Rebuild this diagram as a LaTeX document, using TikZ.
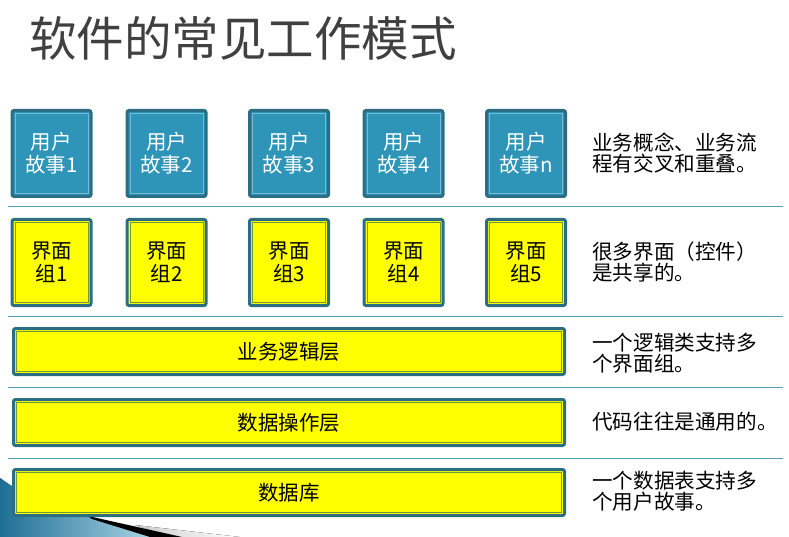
\documentclass[tikz,border=0pt]{standalone}
\usepackage{fontspec}
\setmainfont{Noto Sans CJK SC}

\definecolor{boxedge}{HTML}{2B6E84}
\definecolor{storyblue}{HTML}{2E95B8}
\definecolor{storyline}{HTML}{6FBDD4}
\definecolor{groupline}{HTML}{6E9B3A}
\definecolor{groupfill}{HTML}{FFFF00}
\definecolor{sepline}{HTML}{4F9FB6}
\definecolor{titlegray}{HTML}{404040}
\definecolor{swooshdark}{HTML}{1F6F95}
\definecolor{swooshlight}{HTML}{A8D4E4}

\begin{document}
\begin{tikzpicture}[x=1pt,y=-1pt]
    \tikzset{
      story/.style={rectangle, draw=boxedge, line width=3pt, rounded corners=2pt,
                    fill=storyblue, text=white, minimum width=79pt,
                    minimum height=86pt, align=center,
                    font=\fontsize{20.5}{23}\selectfont},
      group/.style={story, fill=groupfill, text=black},
      layer/.style={group, minimum width=551pt, minimum height=46pt},
      remark/.style={anchor=west, align=left, inner sep=0pt,
                     font=\fontsize{20.6}{21.5}\selectfont},
      rowline/.style={draw=sepline, line width=1pt}
    }

    \useasboundingbox (0,0) rectangle (789,537);

    % Esquina decorativa
    \fill[left color=swooshdark, right color=swooshlight]
      (0,478) .. controls (30,500) and (60,512) .. (92,518) -- (152,537) -- (0,537) -- cycle;
    \fill[left color=gray!40, right color=white]
      (135,525) -- (240,537) -- (170,537) -- cycle;
    \fill[black] (88,516) -- (182,537) -- (150,537) -- (92,519) -- cycle;

    \node[anchor=west, inner sep=0pt, text=titlegray,
          font=\fontsize{47.5}{47.5}\selectfont] (title) at (29,38)
      {软件的常见工作模式};

    % Separadores
    \draw[rowline] (8,207) -- (783,207);
    \draw[rowline] (8,316) -- (783,316);
    \draw[rowline] (8,387) -- (783,387);
    \draw[rowline] (8,458) -- (783,458);

    \node[story] (s1) at (51.5,153.5) {用户\\故事1};
    \node[story] (s2) at (166.5,153.5) {用户\\故事2};
    \node[story] (s3) at (289,153.5) {用户\\故事3};
    \node[story] (s4) at (403.5,153.5) {用户\\故事4};
    \node[story] (s5) at (526,153.5) {用户\\故事n};

    \node[group] (g1) at (51.5,262.5) {界面\\组1};
    \node[group] (g2) at (166.5,262.5) {界面\\组2};
    \node[group] (g3) at (289,262.5) {界面\\组3};
    \node[group] (g4) at (403.5,262.5) {界面\\组4};
    \node[group] (g5) at (526,262.5) {界面\\组5};

    \node[layer] (logic) at (289,351.5) {业务逻辑层};
    \node[layer] (dao) at (289,422.5) {数据操作层};
    \node[layer] (db) at (289,492.5) {数据库};

    % Lineas interiores
    \foreach \n in {s1,s2,s3,s4,s5}
      \draw[storyline, line width=1pt]
        ([shift={(4.5pt,-4.5pt)}]\n.north west) rectangle ([shift={(-4.5pt,4.5pt)}]\n.south east);
    \foreach \n in {g1,g2,g3,g4,g5,logic,dao,db}
      \draw[groupline, line width=1pt]
        ([shift={(4.5pt,-4.5pt)}]\n.north west) rectangle ([shift={(-4.5pt,4.5pt)}]\n.south east);

    \node[remark] (r1) at (592,153) {业务概念、业务流\\程有交叉和重叠。};
    \node[remark] (r2) at (592,262) {很多界面（控件）\\是共享的。};
    \node[remark] (r3) at (592,353) {一个逻辑类支持多\\个界面组。};
    \node[remark] (r4) at (592,422) {代码往往是通用的。};
    \node[remark] (r5) at (592,491) {一个数据表支持多\\个用户故事。};
  \end{tikzpicture}
\end{document}
